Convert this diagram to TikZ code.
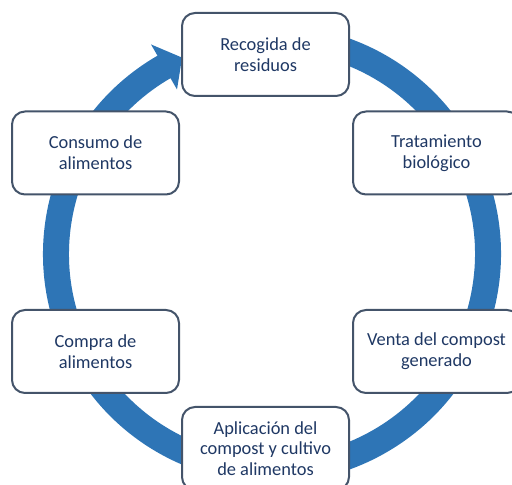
\documentclass[tikz,border=0pt]{standalone}
\usepackage{fontspec}
\setmainfont{Carlito}
\usetikzlibrary{positioning}
\definecolor{cycleblue}{RGB}{46,117,182}
\definecolor{boxline}{RGB}{68,84,106}
\definecolor{boxtext}{RGB}{31,56,100}

\begin{document}
\begin{tikzpicture}[x=1pt,y=1pt,node distance=113.5pt,
 stage/.style={draw=boxline,line width=2pt,rounded corners=13pt,fill=white,
   minimum width=167pt,minimum height=83pt,align=center,text=boxtext,
   font=\fontsize{18.4}{20.7}\selectfont,inner sep=2pt}]
\clip (0,0) rectangle (512,485);
\coordinate (hub) at (272,231);
% block arrow round the cycle
\fill[cycleblue] ([shift={(hub)}]120:229) arc[start angle=120,end angle=440,radius=229]
  -- ([shift={(hub)}]80:203) arc[start angle=440,end angle=120,radius=203]
  -- ([shift={(hub)}]120:190) -- ([shift={(hub)}]114.6:216)
  -- ([shift={(hub)}]120:242) -- cycle;
\node[stage] (recogida) at (265.5,430.5) {Recogida de\\residuos};
\node[stage] (consumo) at (95.5,332) {Consumo de\\alimentos};
\node[stage] (tratamiento) at (436.5,332) {Tratamiento\\biológico};
\node[stage,below=of consumo] (compra) {Compra de\\alimentos};
\node[stage,below=of tratamiento] (venta) {Venta del compost\\generado};
\node[stage] (aplicacion) at (265.5,36.5) {Aplicación del\\compost y cultivo\\de alimentos};
\end{tikzpicture}
\end{document}
